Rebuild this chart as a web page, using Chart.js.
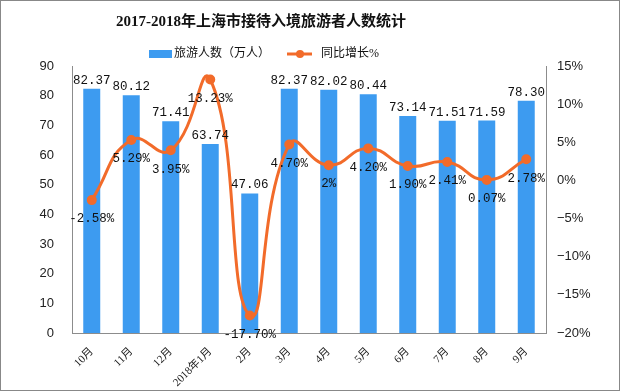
<!DOCTYPE html>
<html>
<head>
<meta charset="utf-8">
<script src="https://cdn.jsdelivr.net/npm/chart.js@4.4.0/dist/chart.umd.min.js"></script>
<style>
    html, body { margin: 0; padding: 0; background: #fff; }
    #wrap { width: 620px; height: 391px; }
</style>
</head>
<body>
<div id="wrap"><canvas id="chartCanvas" width="620" height="391"></canvas></div>
<script>
let months = ['10月', '11月', '12月', '2018年1月', '2月', '3月', '4月', '5月', '6月', '7月', '8月', '9月'];
let visitors = [82.37, 80.12, 71.41, 63.74, 47.06, 82.37, 82.02, 80.44, 73.14, 71.51, 71.59, 78.30];
let growth = [-2.58, 5.29, 3.95, 13.23, -17.70, 4.70, 2, 4.20, 1.90, 2.41, 0.07, 2.78];
let growthText = ['-2.58%', '5.29%', '3.95%', '13.23%', '-17.70%', '4.70%', '2%', '4.20%', '1.90%', '2.41%', '0.07%', '2.78%'];

let barColor = '#3d9bf0';
let lineColor = '#f26b2a';
let axisColor = '#8c8c8c';
let cjk = '"Liberation Serif", "Noto Sans CJK SC", serif';

// title, legend, value labels and frame
let decor = {
    id: 'decor',
    afterDatasetsDraw: function (chart) {
        let ctx = chart.ctx;
        ctx.save();

        // bar values
        ctx.font = '12.5px "Liberation Mono", monospace';
        ctx.fillStyle = '#111';
        ctx.textAlign = 'center';
        ctx.textBaseline = 'bottom';
        chart.getDatasetMeta(0).data.forEach(function (bar, i) {
            ctx.fillText(visitors[i].toFixed(2), bar.x, bar.y - 2);
        });

        // growth labels below points
        ctx.textBaseline = 'middle';
        chart.getDatasetMeta(1).data.forEach(function (pt, i) {
            ctx.fillText(growthText[i], pt.x, pt.y + 19);
        });

        // title
        ctx.font = 'bold 15px ' + cjk;
        ctx.fillText('2017-2018年上海市接待入境旅游者人数统计', 261, 22);

        // legend
        ctx.font = '12px ' + cjk;
        ctx.textAlign = 'left';
        ctx.fillStyle = barColor;
        ctx.fillRect(149, 50, 23, 8);
        ctx.fillStyle = '#111';
        ctx.fillText('旅游人数（万人）', 174, 54);
        ctx.strokeStyle = lineColor;
        ctx.lineWidth = 3;
        ctx.beginPath();
        ctx.moveTo(287, 54);
        ctx.lineTo(312, 54);
        ctx.stroke();
        ctx.fillStyle = lineColor;
        ctx.beginPath();
        ctx.arc(300, 54, 4, 0, Math.PI * 2);
        ctx.fill();
        ctx.fillStyle = '#111';
        ctx.fillText('同比增长%', 321, 54);

        // frame
        ctx.strokeStyle = '#888';
        ctx.lineWidth = 1;
        ctx.strokeRect(0.5, 0.5, 619, 390);
        ctx.restore();
    }
};

let tickFont = { family: '"Liberation Sans", Arial, sans-serif', size: 13 };

let config = {
    type: 'bar',
    data: {
        labels: months,
        datasets: [
            {
                type: 'bar',
                label: '旅游人数（万人）',
                data: visitors,
                backgroundColor: barColor,
                barPercentage: 0.43,
                categoryPercentage: 1,
                yAxisID: 'y',
                order: 2
            },
            {
                type: 'line',
                label: '同比增长%',
                data: growth,
                borderColor: lineColor,
                backgroundColor: lineColor,
                borderWidth: 3,
                pointRadius: 3.5,
                pointBackgroundColor: lineColor,
                pointBorderColor: lineColor,
                tension: 0.5,
                yAxisID: 'y1',
                order: 1
            }
        ]
    },
    options: {
        responsive: false,
        animation: false,
        layout: { padding: { top: 66, left: 0, right: 0, bottom: 0 } },
        plugins: {
            legend: { display: false },
            title: { display: false },
            tooltip: { enabled: false }
        },
        elements: { line: { capBezierPoints: false } },
        scales: {
            x: {
                offset: true,
                grid: { display: false, drawTicks: true, tickLength: 5, tickColor: axisColor, offset: true },
                border: { color: axisColor },
                ticks: { color: '#222', maxRotation: 45, minRotation: 45, font: { family: cjk, size: 11 }, padding: 7 },
                afterFit: function (s) { s.height = 58; }
            },
            y: {
                position: 'left',
                min: 0,
                max: 90,
                ticks: { stepSize: 10, color: '#222', font: tickFont, padding: 13 },
                grid: { display: false, drawOnChartArea: false, drawTicks: true, tickLength: 5, tickColor: axisColor },
                border: { color: axisColor },
                afterFit: function (s) { s.width = 72; }
            },
            y1: {
                position: 'right',
                min: -20,
                max: 15,
                ticks: {
                    stepSize: 5,
                    color: '#222',
                    font: tickFont,
                    padding: 7,
                    callback: function (v) { return (v < 0 ? '\u2212' + (-v) : v) + '%'; }
                },
                grid: { display: false, drawOnChartArea: false, drawTicks: true, tickLength: 4, tickColor: axisColor },
                border: { color: axisColor },
                afterFit: function (s) { s.width = 74; }
            }
        }
    },
    plugins: [decor]
};

window.onload = function () {
    let chartCanvas = document.getElementById('chartCanvas').getContext('2d');
    new Chart(chartCanvas, config);
};
</script>
</body>
</html>
